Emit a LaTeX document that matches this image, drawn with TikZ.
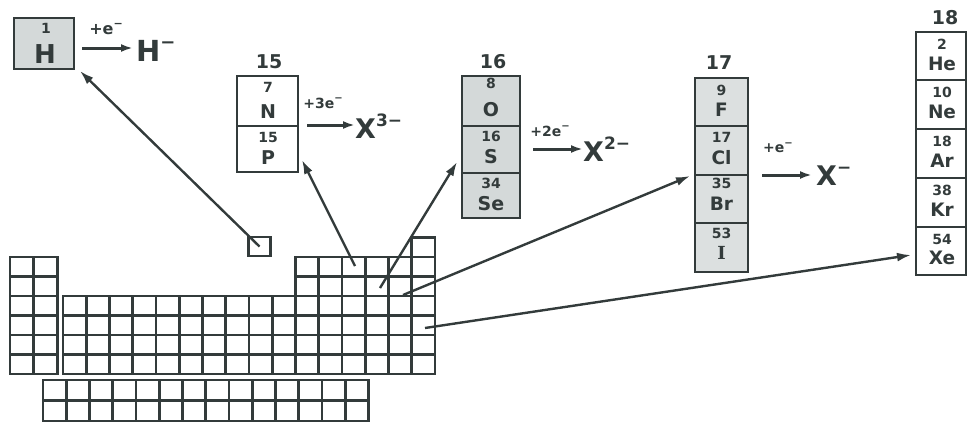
\documentclass[tikz,border=0pt]{standalone}
\usepackage{fontspec}
\setmainfont{DejaVu Sans}
\newfontfamily\serifI{DejaVu Serif}
\usetikzlibrary{arrows.meta}
\definecolor{ink}{HTML}{333B3B}
\definecolor{shade}{HTML}{D4D9D9}
\definecolor{shadeb}{HTML}{DCE0E0}
\tikzset{
  gridcell/.style={draw=ink, line width=2.8pt},
  elbox/.style={draw=ink, line width=2.2pt, inner sep=0pt, outer sep=0pt, anchor=north west},
  num/.style={font=\fontsize{14}{14}\selectfont\bfseries, text=ink, inner sep=0pt},
  sym/.style={font=\fontsize{19}{19}\selectfont\bfseries, text=ink, inner sep=0pt},
  syms/.style={font=\fontsize{18.5}{18.5}\selectfont\bfseries, text=ink, inner sep=0pt},
  hdr/.style={font=\fontsize{19}{19}\selectfont\bfseries, text=ink, inner sep=0pt},
  lab/.style={font=\fontsize{14}{14}\selectfont\bfseries, text=ink, inner sep=0pt},
  ion/.style={font=\fontsize{27}{27}\selectfont\bfseries, text=ink, inner sep=0pt},
  shortarr/.style={draw=ink, line width=3pt, -{Latex[length=12pt,width=8pt]}},
  longarr/.style={draw=ink, line width=2.4pt, -{Latex[length=14pt,width=9pt]}}
}
\newcommand{\supr}[2]{\raisebox{0.45em}{\fontsize{#1}{#1}\selectfont #2}}
\begin{document}
\begin{tikzpicture}[x=1pt,y=-1pt]
\useasboundingbox (0,0) rectangle (968,423);

% ---------- periodic table grid ----------
% s-block (periods 2-7)
\foreach \i in {0,1}{
  \foreach \p in {2,...,7}{
    \draw[gridcell] ({10+\i*23.75},{257+(\p-2)*19.5}) rectangle ++(23.75,19.5);
  }
}
% d-block (groups 3-12, periods 4-7)
\foreach \j in {0,...,9}{
  \foreach \p in {4,...,7}{
    \draw[gridcell] ({63+\j*23.25},{257+(\p-2)*19.5}) rectangle ++(23.25,19.5);
  }
}
% p-block (groups 13-17, periods 2-7)
\foreach \j in {10,...,14}{
  \foreach \p in {2,...,7}{
    \draw[gridcell] ({63+\j*23.25},{257+(\p-2)*19.5}) rectangle ++(23.25,19.5);
  }
}
% group 18 (periods 1-7)
\foreach \p in {1,...,7}{
  \draw[gridcell] ({63+15*23.25},{257+(\p-2)*19.5}) rectangle ++(23.25,19.5);
}
% f-block
\foreach \k in {0,...,13}{
  \foreach \r in {0,1}{
    \draw[gridcell] ({43+\k*23.25},{380+\r*20.5}) rectangle ++(23.25,20.5);
  }
}
% floating H square
\node[gridcell, minimum width=22pt, minimum height=19pt, inner sep=0pt] (Hsq) at (259.5,246.5) {};

% ---------- hydrogen ----------
\node[elbox, fill=shade, minimum width=60pt, minimum height=51pt] (HB) at (14,18) {};
\node[num] (Hn) at (46,28) {1};
\node[ion, font=\fontsize{26}{26}\selectfont\bfseries] (Hs) at (45,54) {H};
\coordinate (hA) at (82,48);
\coordinate (hB) at (133,48);
\draw[shortarr] (hA) -- (hB);
\node[lab, font=\fontsize{16}{16}\selectfont\bfseries] (hL) at (106,29) {+e\supr{11}{−}};
\node[ion, font=\fontsize{29}{29}\selectfont\bfseries, anchor=west] (Hion) at (136,51) {H\supr{18}{−}};

% ---------- group 15 ----------
\node[hdr] (h15) at (269,62) {15};
\node[elbox, minimum width=61pt, minimum height=50pt] (N) at (237,76) {};
\node[elbox, minimum width=61pt, minimum height=46pt] (P) at (237,126) {};
\node[num] at (268,87) {7};
\node[sym] at (268,112) {N};
\node[num] at (268,137) {15};
\node[sym] at (268,158) {P};
\node[lab] (l15) at (323,103) {+3e\supr{10}{−}};
\coordinate (r15a) at (307,125);
\coordinate (r15b) at (355,125);
\draw[shortarr] (r15a) -- (r15b);
\node[ion, anchor=west] (x15) at (355,126) {X\supr{17}{3−}};

% ---------- group 16 ----------
\node[hdr] (h16) at (493,62) {16};
\node[elbox, fill=shade, minimum width=58pt, minimum height=50pt] (O) at (462,76) {};
\node[elbox, fill=shade, minimum width=58pt, minimum height=47pt] (S) at (462,126) {};
\node[elbox, fill=shade, minimum width=58pt, minimum height=45pt] (Se) at (462,173) {};
\node[num] at (491,83) {8};
\node[sym] at (491,110) {O};
\node[num] at (491,136) {16};
\node[sym] at (491,157) {S};
\node[num] at (491,183) {34};
\node[sym] at (491,204) {Se};
\node[lab] (l16) at (550,131) {+2e\supr{10}{−}};
\coordinate (r16a) at (533,149);
\coordinate (r16b) at (583,149);
\draw[shortarr] (r16a) -- (r16b);
\node[ion, anchor=west] (x16) at (583,149) {X\supr{17}{2−}};

% ---------- group 17 ----------
\node[hdr] (h17) at (719,63) {17};
\node[elbox, fill=shadeb, minimum width=53pt, minimum height=48pt] (F) at (695,78) {};
\node[elbox, fill=shadeb, minimum width=53pt, minimum height=49pt] (Cl) at (695,126) {};
\node[elbox, fill=shadeb, minimum width=53pt, minimum height=48pt] (Br) at (695,175) {};
\node[elbox, fill=shadeb, minimum width=53pt, minimum height=49pt] (I) at (695,223) {};
\node[num] at (721.5,90) {9};
\node[syms] at (721.5,110) {F};
\node[num] at (721.5,137) {17};
\node[syms] at (721.5,158) {Cl};
\node[num] at (721.5,183) {35};
\node[syms] at (721.5,204) {Br};
\node[num] at (721.5,233) {53};
\node[syms, font=\fontsize{18}{18}\selectfont\serifI\bfseries] at (721.5,253) {I};
\node[lab] (l17) at (778,148) {+e\supr{10}{−}};
\coordinate (r17a) at (762,175);
\coordinate (r17b) at (812,175);
\draw[shortarr] (r17a) -- (r17b);
\node[ion, anchor=west] (x17) at (816,176) {X\supr{17}{−}};

% ---------- group 18 ----------
\node[hdr] (h18) at (945,18) {18};
\node[elbox, minimum width=50pt, minimum height=48pt] (He) at (916,32) {};
\node[elbox, minimum width=50pt, minimum height=49pt] (Ne) at (916,80) {};
\node[elbox, minimum width=50pt, minimum height=49pt] (Ar) at (916,129) {};
\node[elbox, minimum width=50pt, minimum height=49pt] (Kr) at (916,178) {};
\node[elbox, minimum width=50pt, minimum height=48pt] (Xe) at (916,227) {};
\node[num] at (942,44) {2};
\node[syms] at (942,64) {He};
\node[num] at (942,92) {10};
\node[syms] at (942,112) {Ne};
\node[num] at (942,141) {18};
\node[syms] at (942,161) {Ar};
\node[num] at (942,190) {38};
\node[syms] at (942,210) {Kr};
\node[num] at (942,239) {54};
\node[syms] at (942,258) {Xe};

% ---------- long arrows from table ----------
\coordinate (tH) at (80,71);
\coordinate (s15) at (355,266);
\coordinate (t15) at (302,160);
\coordinate (s16) at (380,288);
\coordinate (t16) at (457,162);
\coordinate (s17) at (403,295);
\coordinate (t17) at (690,176);
\coordinate (s18) at (425,328);
\coordinate (t18) at (911,255);
\draw[longarr] (Hsq.center) -- (tH);
\draw[longarr] (s15) -- (t15);
\draw[longarr] (s16) -- (t16);
\draw[longarr] (s17) -- (t17);
\draw[longarr] (s18) -- (t18);
\end{tikzpicture}
\end{document}
